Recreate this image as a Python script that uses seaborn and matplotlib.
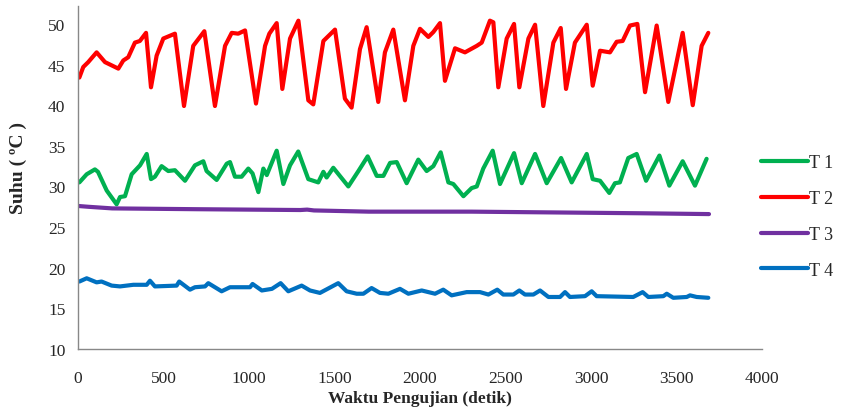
import matplotlib
matplotlib.use("Agg")
import matplotlib.pyplot as plt
from matplotlib.lines import Line2D
import pandas as pd
import seaborn as sns

# T 1 (green)
t1_x = [8, 51, 99, 117, 168, 226, 246, 275, 314, 363, 402, 427, 450, 489, 528, 567, 626, 684, 733,
        752, 811, 870, 889, 918, 957, 996, 1021, 1055, 1084, 1104, 1162, 1201, 1240, 1288, 1347, 1405,
        1435, 1454, 1493, 1581, 1640, 1694, 1747, 1786, 1825, 1864, 1922, 1990, 2039, 2078, 2121,
        2166, 2195, 2254, 2302, 2332, 2370, 2425, 2468, 2550, 2595, 2673, 2741, 2825, 2887, 2975,
        3010, 3053, 3107, 3140, 3169, 3218, 3267, 3322, 3400, 3458, 3536, 3608, 3676]
t1_y = [30.5, 31.5, 32.1, 31.8, 29.5, 27.8, 28.7, 28.8, 31.5, 32.6, 34.0, 30.9, 31.2, 32.5, 31.9,
        32.0, 30.7, 32.6, 33.1, 31.9, 30.8, 32.8, 33.0, 31.2, 31.2, 32.2, 31.6, 29.3, 32.2, 31.4,
        34.4, 30.3, 32.6, 34.3, 30.9, 30.5, 31.8, 31.1, 32.3, 30.0, 31.9, 33.7, 31.3, 31.3, 32.9,
        33.0, 30.4, 33.3, 31.9, 32.5, 34.2, 30.5, 30.3, 28.8, 29.8, 30.0, 32.2, 34.4, 30.3, 34.1,
        30.4, 34.0, 30.4, 33.5, 30.5, 34.0, 30.9, 30.7, 29.2, 30.4, 30.5, 33.5, 34.0, 30.7, 33.8,
        30.1, 33.1, 30.1, 33.4]

# T 2 (red)
t2_x = [8, 31, 60, 109, 158, 236, 265, 294, 333, 362, 398, 427, 460, 499, 567, 620, 674, 739, 801,
        860, 899, 937, 977, 1041, 1094, 1119, 1162, 1195, 1240, 1289, 1347, 1376, 1435, 1503, 1561,
        1600, 1649, 1688, 1756, 1795, 1844, 1912, 1961, 2000, 2049, 2078, 2117, 2146, 2205, 2263,
        2332, 2361, 2409, 2429, 2458, 2507, 2550, 2581, 2634, 2673, 2721, 2780, 2823, 2854, 2906,
        2975, 3010, 3053, 3111, 3150, 3185, 3228, 3271, 3316, 3384, 3452, 3536, 3595, 3647, 3686]
t2_y = [43.4, 44.7, 45.3, 46.5, 45.3, 44.5, 45.5, 45.9, 47.7, 47.9, 48.9, 42.2, 46.1, 48.2, 48.8,
        39.9, 47.3, 49.1, 39.9, 47.3, 48.9, 48.8, 49.2, 40.2, 47.3, 48.8, 50.1, 42.0, 48.2, 50.4,
        40.6, 40.1, 47.9, 49.3, 40.8, 39.7, 46.9, 49.6, 40.4, 46.5, 49.3, 40.6, 47.3, 49.4, 48.4,
        49.0, 50.1, 43.0, 47.0, 46.5, 47.3, 47.7, 50.4, 50.2, 42.2, 48.2, 50.0, 42.2, 48.2, 49.9,
        39.9, 47.7, 49.5, 42.0, 47.7, 49.9, 42.4, 46.7, 46.5, 47.8, 47.9, 49.8, 50.0, 41.6, 49.8,
        40.4, 48.9, 40.0, 47.3, 48.9]

# T 3 (purple)
t3_x = [0, 60, 200, 700, 1300, 1340, 1380, 1700, 2300, 2800, 3300, 3690]
t3_y = [27.6, 27.5, 27.3, 27.2, 27.1, 27.15, 27.05, 26.9, 26.9, 26.8, 26.7, 26.6]

# T 4 (blue)
t4_x = [8, 51, 109, 138, 197, 246, 324, 402, 421, 450, 577, 592, 655, 684, 743, 762, 840, 889,
        1006, 1021, 1075, 1134, 1185, 1230, 1308, 1357, 1415, 1522, 1571, 1630, 1669, 1717, 1766,
        1815, 1883, 1932, 2010, 2088, 2136, 2185, 2273, 2351, 2400, 2452, 2487, 2546, 2581, 2614,
        2663, 2702, 2751, 2819, 2848, 2877, 2965, 3004, 3033, 3247, 3302, 3335, 3423, 3443, 3481,
        3560, 3579, 3618, 3686]
t4_y = [18.3, 18.7, 18.2, 18.3, 17.8, 17.7, 17.9, 17.9, 18.4, 17.7, 17.8, 18.3, 17.3, 17.6, 17.7,
        18.1, 17.1, 17.6, 17.6, 18.0, 17.2, 17.4, 18.1, 17.1, 17.8, 17.2, 16.9, 18.1, 17.1, 16.8,
        16.8, 17.5, 16.9, 16.8, 17.4, 16.8, 17.2, 16.8, 17.3, 16.6, 17.0, 17.0, 16.7, 17.3, 16.7,
        16.7, 17.2, 16.7, 16.7, 17.2, 16.4, 16.4, 17.0, 16.4, 16.5, 17.1, 16.5, 16.4, 17.0, 16.4,
        16.5, 16.8, 16.3, 16.4, 16.6, 16.4, 16.3]

labels = ["T 1", "T 2", "T 3", "T 4"]
colors = ["#00B050", "#FF0000", "#7030A0", "#0070C0"]

frames = []
for name, xs, ys in zip(labels, [t1_x, t2_x, t3_x, t4_x], [t1_y, t2_y, t3_y, t4_y]):
    frames.append(pd.DataFrame({"waktu": xs, "suhu": ys, "sensor": name}))
df = pd.concat(frames, ignore_index=True)

sns.set_style("white")
plt.rcParams["font.family"] = ["Liberation Serif", "DejaVu Serif"]

fig = plt.figure(figsize=(8.42, 4.14), dpi=100)
ax = fig.add_axes([0.0926, 0.1546, 0.8124, 0.8284])

sns.lineplot(data=df, x="waktu", y="suhu", hue="sensor", palette=dict(zip(labels, colors)),
             estimator=None, sort=True, lw=3.0, ax=ax, legend=False,
             solid_joinstyle="round", solid_capstyle="round")

ax.set_xlim(0, 4000)
ax.set_ylim(10, 52.2)
ax.set_xticks(range(0, 4001, 500))
ax.set_yticks(range(10, 51, 5))
ax.tick_params(axis="both", direction="out", length=5, width=1, color="#888888",
               labelsize=12.5, pad=4)
ax.tick_params(axis="x", pad=10)
for s in ["top", "right"]:
    ax.spines[s].set_visible(False)
for s in ["left", "bottom"]:
    ax.spines[s].set_color("#888888")
    ax.spines[s].set_linewidth(1)

ax.set_xlabel("Waktu Pengujian (detik)", fontsize=12.5, fontweight="bold", labelpad=3)
ax.set_ylabel("Suhu ( ºC )", fontsize=14, fontweight="bold")
ax.yaxis.set_label_coords(-0.074, 0.53)

handles = [Line2D([], [], color=c, lw=3.0, solid_capstyle="round") for c in colors]
fig.legend(handles, labels, loc="center left", bbox_to_anchor=(0.884, 0.475), frameon=False,
           fontsize=13, handlelength=2.6, handletextpad=0.1, labelspacing=1.05)

fig.savefig("out.png", dpi=100)
